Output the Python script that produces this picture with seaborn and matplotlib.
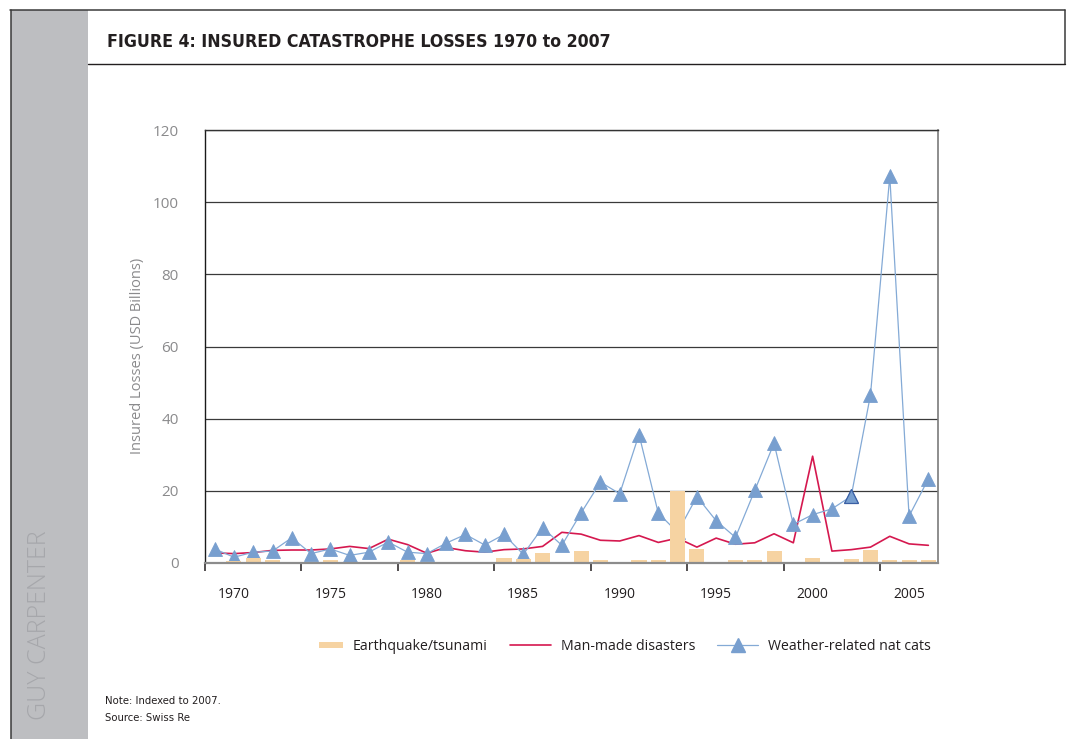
import numpy as np
import pandas as pd
import matplotlib
matplotlib.use("Agg")
import matplotlib.pyplot as plt
import seaborn as sns
from matplotlib.lines import Line2D
from matplotlib.patches import Rectangle
from matplotlib.legend_handler import HandlerPatch
from matplotlib import font_manager

# Insured catastrophe losses, USD billions (indexed to 2007), one value per year
years = list(range(1970, 2008))
earthquake = [0.0, 0.5, 1.4, 0.75, 0.0, 0.0, 0.75, 0.0, 0.0, 0.0,
              0.9, 0.0, 0.0, 0.0, 0.0, 1.4, 1.0, 2.8, 0.0, 3.2,
              0.75, 0.0, 0.75, 0.75, 20.0, 3.8, 0.0, 0.75, 0.75, 3.2,
              0.0, 1.4, 0.0, 1.1, 3.5, 0.75, 0.75, 0.75]
man_made = [2.8, 2.6, 2.9, 3.5, 3.6, 3.6, 3.9, 4.6, 4.0, 6.6,
            5.1, 2.7, 4.3, 3.4, 3.0, 3.7, 3.9, 4.6, 8.5, 8.0,
            6.3, 6.1, 7.6, 5.7, 6.9, 4.4, 6.9, 5.2, 5.6, 8.1,
            5.6, 29.6, 3.3, 3.7, 4.4, 7.4, 5.3, 4.9]
weather = [3.9, 1.6, 3.0, 3.3, 7.0, 2.6, 3.9, 2.1, 3.0, 5.8,
           3.0, 2.6, 5.5, 7.9, 5.0, 7.9, 2.4, 9.8, 4.9, 13.9,
           22.4, 19.2, 35.6, 13.8, 8.5, 18.4, 11.7, 7.1, 20.1, 33.2,
           10.7, 13.4, 15.0, 18.5, 46.6, 107.2, 13.0, 23.3]
tick_labels = ["1970", "1975", "1980", "1985", "1990", "1995", "2000", "2005"]
series_names = ["Earthquake/tsunami", "Man-made disasters", "Weather-related nat cats"]

title = "FIGURE 4: INSURED CATASTROPHE LOSSES 1970 to 2007"
y_title = "Insured Losses (USD Billions)"
notes = ["Note: Indexed to 2007.", "Source: Swiss Re"]
brand = "GUY CARPENTER"

BAR = "#f6d3a2"
RED = "#d5184f"
BLUE_LINE = "#84aad6"
BLUE_MARK = "#789fcf"
DARK = "#231f20"
GREY_TXT = "#8a8a8c"

sns.set_style("white")
plt.rcParams["font.family"] = ["Open Sans", "DejaVu Sans"]

# condensed face for the heading and the notes, if one is installed
narrow_files = [f.fname for f in font_manager.fontManager.ttflist
                if "Condensed" in f.fname or "Narrow" in f.fname]


def narrow_props(size, bold=False):
    want = [p for p in narrow_files if ("Bold" in p) == bold and "Oblique" not in p
            and "Italic" not in p and "Sans" in p]
    if want:
        return font_manager.FontProperties(fname=sorted(want, key=len)[0], size=size)
    return font_manager.FontProperties(family="DejaVu Sans", size=size * 0.8,
                                       weight="bold" if bold else "normal")


W, H = 1069, 739
fig = plt.figure(figsize=(W / 100, H / 100), dpi=100)
fig.patch.set_facecolor("white")


def fx(px):
    return px / W


def fy(py):
    return 1 - py / H


ax = fig.add_axes([fx(205), fy(563), fx(938) - fx(205), fy(130) - fy(563)])

n = len(years)
df = pd.DataFrame({
    "pos": np.arange(n),
    "year": years,
    "earthquake": earthquake,
    "man_made": man_made,
    "weather": weather,
})

sns.lineplot(data=df, x="pos", y="weather", ax=ax, color=BLUE_LINE, linewidth=0.9,
             marker="^", markersize=9.5, markerfacecolor=BLUE_MARK,
             markeredgecolor=BLUE_MARK, markeredgewidth=0.6, zorder=3, legend=False)
# one highlighted point (2003) with a darker outline
hi = years.index(2003)
ax.plot(df["pos"].iloc[hi], df["weather"].iloc[hi], marker="^", markersize=9.5,
        markerfacecolor=BLUE_MARK, markeredgecolor="#3a5fa3", markeredgewidth=0.9,
        linestyle="none", zorder=3.5)
sns.lineplot(data=df, x="pos", y="man_made", ax=ax, color=RED, linewidth=1.2,
             zorder=2.5, legend=False)
sns.barplot(data=df, x="pos", y="earthquake", ax=ax, native_scale=True, width=0.78,
            color=BAR, saturation=1, linewidth=0, edgecolor="none", zorder=4)

ax.set_xlim(-0.5, n - 0.5)
ax.set_ylim(0, 120)
ax.set_yticks(np.arange(0, 121, 20))
ax.set_xticks(np.arange(1, n, 5))
ax.set_xticklabels(tick_labels)
ax.set_xticks(np.arange(-0.5, n - 1, 5), minor=True)
ax.set_xlabel("")
ax.set_ylabel(y_title, fontsize=10.5, color=GREY_TXT)
ax.yaxis.set_label_coords(-0.082, 0.478)

ax.tick_params(axis="x", which="major", length=0, pad=17, labelsize=10, labelcolor=DARK)
ax.tick_params(axis="x", which="minor", bottom=True, length=6, width=1.1, color=DARK,
               direction="out")
ax.tick_params(axis="y", length=0, pad=19, labelsize=11, labelcolor=GREY_TXT)

ax.yaxis.grid(True, color="#3a3a3a", linewidth=0.9)
ax.xaxis.grid(False)
for side, col, lw in [("left", "#1a1a1a", 1.0), ("top", "#333333", 1.0),
                      ("right", "#7a7a7a", 1.2), ("bottom", "#8c8c8c", 1.6)]:
    ax.spines[side].set_visible(True)
    ax.spines[side].set_color(col)
    ax.spines[side].set_linewidth(lw)
ax.spines["bottom"].set_zorder(5)

# Legend
handles = [
    Rectangle((0, 0), 1, 1, facecolor=BAR, edgecolor="none"),
    Line2D([], [], color=RED, linewidth=1.2),
    Line2D([], [], color=BLUE_LINE, linewidth=0.9, marker="^", markersize=9.5,
           markerfacecolor=BLUE_MARK, markeredgecolor=BLUE_MARK),
]


def small_patch(legend, orig_handle, xdescent, ydescent, width, height, fontsize):
    return Rectangle((-xdescent + width * 0.42, -ydescent + height * 0.2),
                     width * 0.58, height * 0.6)


leg = fig.legend(handles, series_names, loc="center left",
                 bbox_to_anchor=(fx(289), fy(646)), ncol=3, frameon=False,
                 fontsize=10.2, handlelength=2.9, handletextpad=0.7,
                 columnspacing=1.55, labelcolor=DARK,
                 handler_map={Rectangle: HandlerPatch(patch_func=small_patch)})

# Page furniture: side band, frame lines, title, notes
fig.add_artist(Rectangle((fx(11), 0), fx(88) - fx(11), fy(10), transform=fig.transFigure,
                         facecolor="#bdbec1", edgecolor="none", zorder=0))
fig.add_artist(Line2D([fx(10.5), fx(10.5)], [0, fy(10)], transform=fig.transFigure,
                      color="#3a3a3a", linewidth=1.1))
fig.add_artist(Line2D([fx(10), fx(1065)], [fy(10), fy(10)], transform=fig.transFigure,
                      color="#3a3a3a", linewidth=1.1))
fig.add_artist(Line2D([fx(1065), fx(1065)], [fy(10), fy(64)], transform=fig.transFigure,
                      color="#3a3a3a", linewidth=1.1))
fig.add_artist(Line2D([fx(88), fx(1065)], [fy(64), fy(64)], transform=fig.transFigure,
                      color=DARK, linewidth=1.0))

t = fig.text(fx(107), fy(42), title, ha="left", va="center", color=DARK,
             fontproperties=narrow_props(13.2, bold=True))
fig.text(fx(105), fy(701), notes[0], ha="left", va="center", color=DARK,
         fontproperties=narrow_props(8.1))
fig.text(fx(105), fy(718), notes[1], ha="left", va="center", color=DARK,
         fontproperties=narrow_props(8.1))
fig.text(fx(40), fy(625), brand, ha="center", va="center", rotation=90,
         fontsize=18, color="#a6a7ab", fontweight="light")

# fit the heading to its measured span
fig.canvas.draw()
bb = t.get_window_extent()
target = 611 - 107
fp = t.get_fontproperties()
fp.set_size(fp.get_size() * target / bb.width)
t.set_fontproperties(fp)

fig.savefig("out.png", dpi=100, facecolor="white")
